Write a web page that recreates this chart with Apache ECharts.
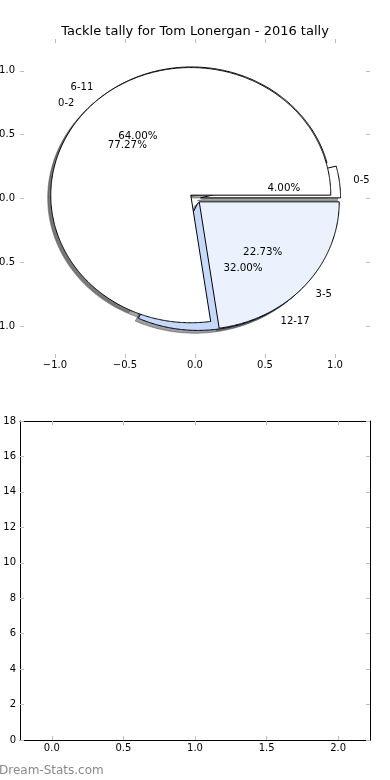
<!DOCTYPE html>
<html>
<head>
<meta charset="utf-8">
<script src="https://cdn.jsdelivr.net/npm/echarts@6/dist/echarts.min.js"></script>
<style>html,body{margin:0;padding:0;background:#fff}#c{width:390px;height:780px}</style>
</head>
<body>
<div id="c"></div>
<script>
// ---- data ----
const chartTitle = 'Tackle tally for Tom Lonergan - 2016 tally';
const pieALabels = ['0-5', '6-11', '12-17'];
const pieAValues = [1, 16, 8];
const pieBLabels = ['0-2', '3-5'];
const pieBValues = [17, 5];
const pieXTicks = [-1.0, -0.5, 0.0, 0.5, 1.0];
const pieYTicks = [-1.0, -0.5, 0.0, 0.5, 1.0];
const barXTicks = [0.0, 0.5, 1.0, 1.5, 2.0];
const barYTicks = [0, 2, 4, 6, 8, 10, 12, 14, 16, 18];
const watermark = 'Dream-Stats.com';

// ---- styles ----
const pieAColors = ['#ffffff', '#ffffff', '#c6d9fa'];
const pieBColors = ['#ffffff', '#ecf2fd'];
const EXPLODE = 0.04, SHADOW_OFF = 0.022, LABEL_DIST = 1.1, PCT_DIST = 0.6;
const FONT = 'DejaVu Sans';
const TICK_COLOR = '#bdbdbd';

function buildWedges(labels, values, colors) {
  const total = values.reduce((a, b) => a + b, 0);
  let acc = 0;
  return values.map((v, i) => {
    const t1 = acc / total * 360; acc += v; const t2 = acc / total * 360;
    const mid = (t1 + t2) / 2 * Math.PI / 180;
    return { label: labels[i], value: v, pct: (v / total * 100).toFixed(2) + '%', t1, t2, mid,
      cx: EXPLODE * Math.cos(mid), cy: EXPLODE * Math.sin(mid), color: colors[i] };
  });
}
const wedgesA = buildWedges(pieALabels, pieAValues, pieAColors);
const wedgesB = buildWedges(pieBLabels, pieBValues, pieBColors);
const allWedges = wedgesA.concat(wedgesB);

function wedgePoints(api, w, dx, dy) {
  const pts = [api.coord([w.cx + dx, w.cy + dy])];
  const n = Math.max(2, Math.ceil((w.t2 - w.t1) / 0.5));
  for (let k = 0; k <= n; k++) {
    const a = (w.t1 + (w.t2 - w.t1) * k / n) * Math.PI / 180;
    pts.push(api.coord([w.cx + dx + Math.cos(a), w.cy + dy + Math.sin(a)]));
  }
  return pts;
}
function shadowColor(hex) {
  const r = parseInt(hex.slice(1, 3), 16), g = parseInt(hex.slice(3, 5), 16), b = parseInt(hex.slice(5, 7), 16);
  return 'rgba(' + Math.round(r * 0.3) + ',' + Math.round(g * 0.3) + ',' + Math.round(b * 0.3) + ',0.5)';
}
const fmt1 = v => (v < 0 ? '\u2212' : '') + Math.abs(v).toFixed(1);

function wedgeSeries(list, z) {
  return {
    type: 'custom', xAxisIndex: 0, yAxisIndex: 0, z: z, silent: true,
    data: list.map(w => [w.t1, w.t2, w.value]),
    renderItem: (p, api) => {
      const w = list[p.dataIndex];
      return { type: 'polygon', shape: { points: wedgePoints(api, w, 0, 0) },
        style: { fill: w.color, stroke: '#000', lineWidth: 1, lineJoin: 'miter' } };
    }
  };
}

function valueAxis(grid, pos, min, max, ticks, showLabel, showLine, margin, formatter) {
  return {
    gridIndex: grid, type: 'value', position: pos, min: min, max: max,
    axisLine: { show: showLine, onZero: false, lineStyle: { color: '#000', width: 1 } },
    axisTick: { show: true, inside: true, length: 4, customValues: ticks, lineStyle: { color: TICK_COLOR, width: 1 } },
    axisLabel: { show: showLabel, customValues: ticks, margin: margin, formatter: formatter,
      fontSize: 10, fontFamily: FONT, color: '#000' },
    splitLine: { show: false }
  };
}

const chart = echarts.init(document.getElementById('c'), null, { renderer: 'canvas' });
chart.setOption({
  animation: false,
  backgroundColor: '#fff',
  title: { text: chartTitle, left: 'center', top: 23, padding: 0,
    textStyle: { fontSize: 13, fontWeight: 'normal', fontFamily: FONT, color: '#000', lineHeight: 17 } },
  grid: [
    { left: 20, top: 39, width: 350, height: 319, containLabel: false, outerBoundsMode: 'none' },
    { left: 20, top: 421, width: 350, height: 319, containLabel: false, outerBoundsMode: 'none' }
  ],
  xAxis: [
    valueAxis(0, 'bottom', -1.25, 1.25, pieXTicks, true, false, 2.5, fmt1),
    valueAxis(0, 'top', -1.25, 1.25, pieXTicks, false, false, 2, fmt1),
    valueAxis(1, 'bottom', -0.222, 2.222, barXTicks, true, true, 3, fmt1),
    valueAxis(1, 'top', -0.222, 2.222, barXTicks, false, true, 3, fmt1)
  ],
  yAxis: [
    valueAxis(0, 'left', -1.25, 1.25, pieYTicks, true, false, 5, fmt1),
    valueAxis(0, 'right', -1.25, 1.25, pieYTicks, false, false, 5, fmt1),
    valueAxis(1, 'left', 0, 18, barYTicks, true, true, 4, v => String(v)),
    valueAxis(1, 'right', 0, 18, barYTicks, false, true, 4, v => String(v))
  ],
  graphic: [
    { type: 'text', x: -1, y: 771, silent: true,
      style: { text: watermark, fontSize: 12, fontFamily: FONT, fill: '#8a8a8a', align: 'left', verticalAlign: 'middle' } }
  ],
  series: [
    {
      type: 'custom', xAxisIndex: 0, yAxisIndex: 0, z: 1, silent: true,
      data: allWedges.map(w => [w.t1, w.t2, w.value]),
      renderItem: (p, api) => {
        const w = allWedges[p.dataIndex];
        const c = shadowColor(w.color);
        return { type: 'polygon', shape: { points: wedgePoints(api, w, -SHADOW_OFF, -SHADOW_OFF) },
          style: { fill: c, stroke: c, lineWidth: 1 } };
      }
    },
    wedgeSeries(wedgesA, 2),
    wedgeSeries(wedgesB, 3),
    {
      type: 'custom', xAxisIndex: 0, yAxisIndex: 0, z: 4, silent: true,
      data: allWedges.map(w => [w.t1, w.t2, w.value]),
      renderItem: (p, api) => {
        const w = allWedges[p.dataIndex];
        const lx = w.cx + LABEL_DIST * Math.cos(w.mid), ly = w.cy + LABEL_DIST * Math.sin(w.mid);
        const px = w.cx + PCT_DIST * Math.cos(w.mid), py = w.cy + PCT_DIST * Math.sin(w.mid);
        const lp = api.coord([lx, ly]), pp = api.coord([px, py]);
        return { type: 'group', children: [
          { type: 'text', x: lp[0], y: lp[1] + 0.5, style: { text: w.label, fill: '#000', fontSize: 10, fontFamily: FONT,
              align: lx > 0 ? 'left' : 'right', verticalAlign: 'middle' } },
          { type: 'text', x: pp[0], y: pp[1] + 0.5, style: { text: w.pct, fill: '#000', fontSize: 10.3, fontFamily: FONT,
              align: 'center', verticalAlign: 'middle' } }
        ] };
      }
    }
  ]
});
</script>
</body>
</html>
